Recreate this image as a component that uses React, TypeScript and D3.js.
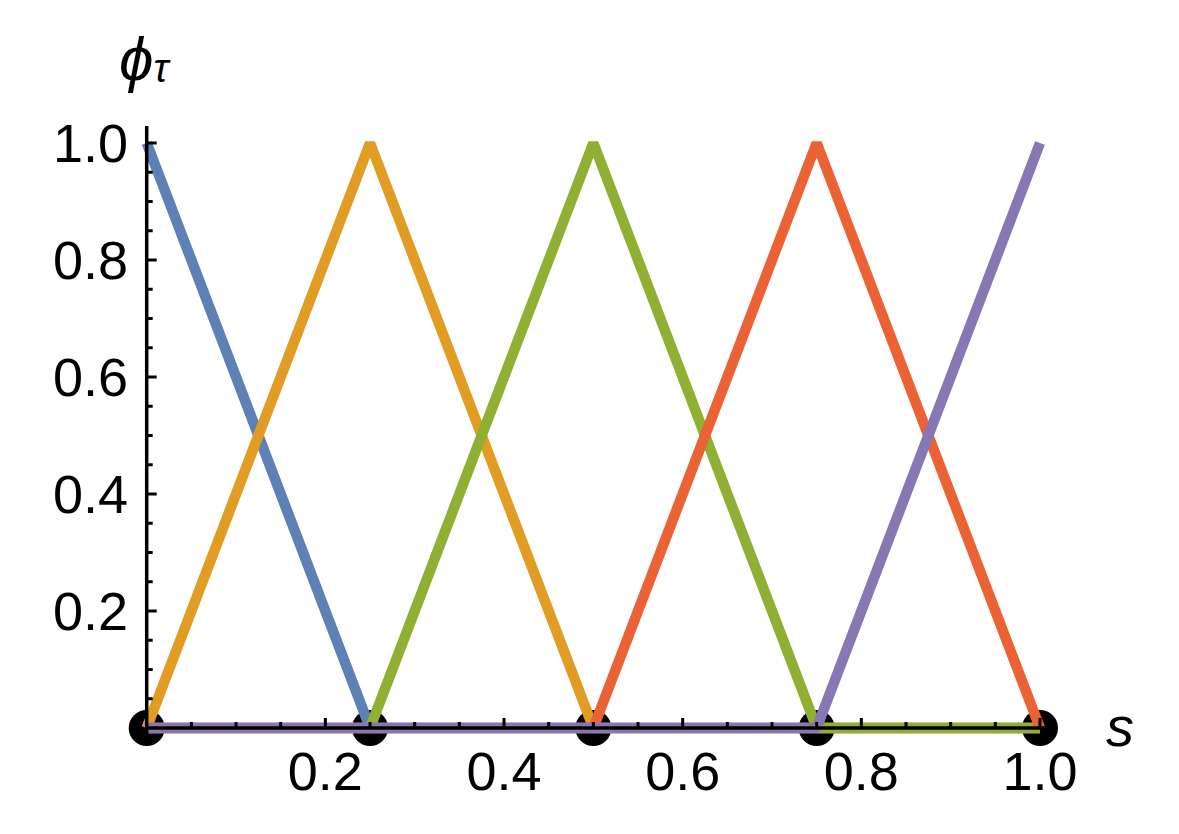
import React from "react";
import * as d3 from "d3";

const nodes = [0, 0.25, 0.5, 0.75, 1];
const seriesValues = [
  [1, 0, 0, 0, 0],
  [0, 1, 0, 0, 0],
  [0, 0, 1, 0, 0],
  [0, 0, 0, 1, 0],
  [0, 0, 0, 0, 1],
];
const seriesColors = ["#5E81B5", "#E19C24", "#8FB032", "#EB6235", "#8778B3"];
const majorTicks = [0.2, 0.4, 0.6, 0.8, 1.0];
const tickLabels = ["0.2", "0.4", "0.6", "0.8", "1.0"];
const minorTicks = d3.range(1, 21).map((i) => i * 0.05).filter((v) => !majorTicks.some((m) => Math.abs(m - v) < 1e-6));

export default function App() {
  const W = 1179, H = 834;
  const x = d3.scaleLinear().domain([0, 1]).range([146.7, 1040]);
  const y = d3.scaleLinear().domain([0, 1]).range([728, 143]);
  const line = d3.line<number>().x((_, i) => x(nodes[i])).y((d) => y(d));
  const font = "Arial, 'Liberation Sans', sans-serif";
  const axisW = 3.5;
  return (
    <svg width={W} height={H} style={{ position: "absolute", left: 0, top: 0, background: "#fff" }}>
      {nodes.map((n, i) => (
        <circle key={"dot" + i} cx={x(n)} cy={y(0)} r={18} fill="#000" />
      ))}
      {seriesValues.map((vals, i) => (
        <path key={"s" + i} d={line(vals) || ""} fill="none" stroke={seriesColors[i]} strokeWidth={10.5} strokeLinejoin="bevel" strokeLinecap="butt" />
      ))}
      {/* axes */}
      <line x1={x(0)} x2={1050} y1={y(0)} y2={y(0)} stroke="#000" strokeWidth={axisW} />
      <line x1={x(0)} x2={x(0)} y1={735} y2={126} stroke="#000" strokeWidth={axisW} />
      {majorTicks.map((t, i) => (
        <g key={"mx" + i}>
          <line x1={x(t)} x2={x(t)} y1={y(0)} y2={y(0) - 10} stroke="#000" strokeWidth={3} />
          <line x1={x(0)} x2={x(0) + 10} y1={y(t)} y2={y(t)} stroke="#000" strokeWidth={3} />
          <text x={x(t)} y={790} textAnchor="middle" fontFamily={font} fontSize={54}>{tickLabels[i]}</text>
          <text x={128} y={y(t)} dy="0.36em" textAnchor="end" fontFamily={font} fontSize={54}>{tickLabels[i]}</text>
        </g>
      ))}
      {minorTicks.map((t, i) => (
        <g key={"mn" + i}>
          <line x1={x(t)} x2={x(t)} y1={y(0)} y2={y(0) - 6} stroke="#000" strokeWidth={3} />
          <line x1={x(0)} x2={x(0) + 6} y1={y(t)} y2={y(t)} stroke="#000" strokeWidth={3} />
        </g>
      ))}
      <text x={1106} y={746} fontFamily={font} fontSize={56} fontStyle="italic">s</text>
      <text x={119} y={80} fontFamily={font} fontSize={62} fontStyle="italic">
        ϕ<tspan fontSize={40} dy={2}>τ</tspan>
      </text>
    </svg>
  );
}
